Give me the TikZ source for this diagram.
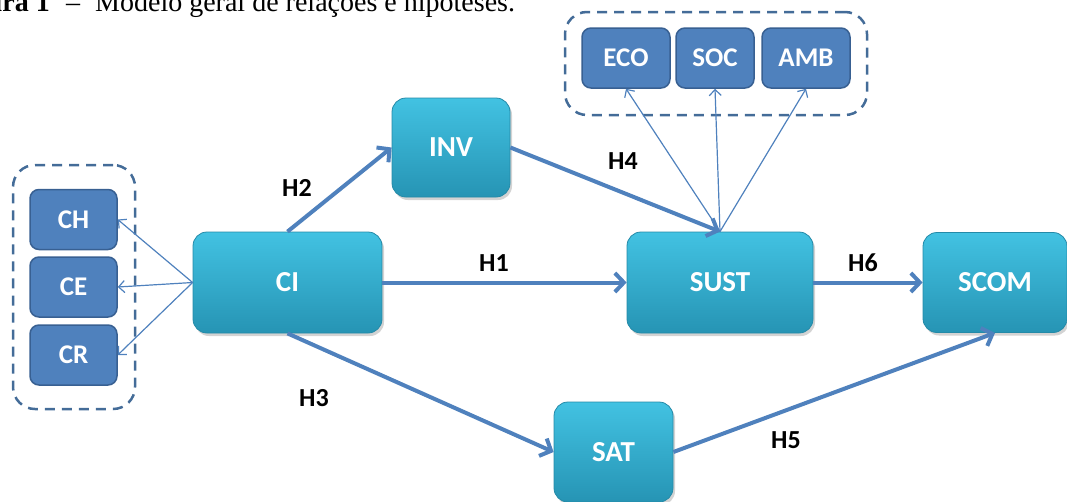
\documentclass[tikz,border=0pt]{standalone}
\usepackage{fontspec}
\setmainfont{Liberation Serif}
\newfontfamily\carlito{Carlito}
\usetikzlibrary{arrows.meta,shadows}
\definecolor{cyanT}{RGB}{66,194,226}
\definecolor{cyanB}{RGB}{38,148,180}
\definecolor{cyanD}{RGB}{36,138,168}
\definecolor{blueF}{RGB}{79,129,189}
\definecolor{blueD}{RGB}{56,96,146}
\definecolor{dashC}{RGB}{68,108,152}
\definecolor{arrC}{RGB}{79,129,189}
\begin{document}
\begin{tikzpicture}[x=1pt,y=-1pt,
  cbox/.style={rounded corners=14pt, top color=cyanT, bottom color=cyanB, draw=cyanD, line width=0.8pt, text=white,
    font=\carlito\bfseries\fontsize{29}{29}\selectfont, inner sep=0pt,
    drop shadow={opacity=0.35,shadow xshift=2pt,shadow yshift=-3pt}},
  bbox/.style={rounded corners=9pt, fill=blueF, draw=blueD, line width=1.5pt, text=white,
    font=\carlito\bfseries\fontsize{27}{27}\selectfont, minimum height=60pt, inner sep=0pt},
  grp/.style={draw=dashC, dash pattern=on 10pt off 7pt, line width=2.5pt, rounded corners=22pt, inner sep=0pt},
  harr/.style={draw=arrC, line width=4pt, -{Straight Barb[length=9pt,width=19pt]}},
  tarr/.style={draw=arrC, line width=1.2pt, -{Straight Barb[length=6pt,width=12pt]}},
  hlab/.style={font=\carlito\bfseries\fontsize{26}{26}\selectfont, text=black, inner sep=0pt},
  captxt/.style={inner sep=0pt, font=\fontsize{28}{28}\selectfont}
]
\useasboundingbox (0,0) rectangle (1067,501);

% caption (cut off at the page edge, as in the reference)
\node[captxt, anchor=base east, font=\fontsize{28}{28}\selectfont\bfseries] (capa) at (50,11) {Figura 1};
\node[captxt, anchor=base] (capb) at (73,11) {–};
\node[captxt, anchor=base west] (capc) at (95,11) {Modelo geral de relações e hipóteses.};

% groups
\node[grp, minimum width=122pt, minimum height=244pt] (gL) at (74,287) {};
\node[grp, minimum width=302pt, minimum height=103pt] (gT) at (716,63.5) {};

% blue boxes
\node[bbox, minimum width=87pt] (CH) at (73.5,219.5) {CH};
\node[bbox, minimum width=87pt] (CE) at (73.5,287) {CE};
\node[bbox, minimum width=87pt] (CR) at (73.5,355) {CR};
\node[bbox, minimum width=88pt] (ECO) at (626,58) {ECO};
\node[bbox, minimum width=78pt] (SOC) at (715,58) {SOC};
\node[bbox, minimum width=88pt] (AMB) at (806,58) {AMB};

% cyan boxes
\node[cbox, minimum width=189pt, minimum height=101pt] (CI) at (287.5,282.5) {CI};
\node[cbox, minimum width=118pt, minimum height=99pt] (INV) at (451,147.5) {INV};
\node[cbox, minimum width=186pt, minimum height=101pt] (SUST) at (720,282.5) {SUST};
\node[cbox, minimum width=144pt, minimum height=100pt] (SCOM) at (995,282.5) {SCOM};
\node[cbox, minimum width=119pt, minimum height=100pt] (SAT) at (613.5,452) {SAT};

% thick arrows
\draw[harr] (CI.north) -- (INV.west);
\draw[harr] (INV.east) -- (SUST.north);
\draw[harr] (CI.east) -- (SUST.west);
\draw[harr] (SUST.east) -- (SCOM.west);
\draw[harr] (CI.south) -- (SAT.west);
\draw[harr] (SAT.east) -- (SCOM.south);

% thin arrows
\draw[tarr] (SUST.north) -- (ECO.south);
\draw[tarr] (SUST.north) -- (SOC.south);
\draw[tarr] (SUST.north) -- (AMB.south);
\draw[tarr] (CI.west) -- (CH.east);
\draw[tarr] (CI.west) -- (CE.east);
\draw[tarr] (CI.west) -- (CR.east);

% labels
\node[hlab] (h2) at (297,188) {H2};
\node[hlab] (h4) at (623,161) {H4};
\node[hlab] (h1) at (494,263) {H1};
\node[hlab] (h6) at (863,263) {H6};
\node[hlab] (h3) at (314,398) {H3};
\node[hlab] (h5) at (786,440) {H5};
\end{tikzpicture}
\end{document}
